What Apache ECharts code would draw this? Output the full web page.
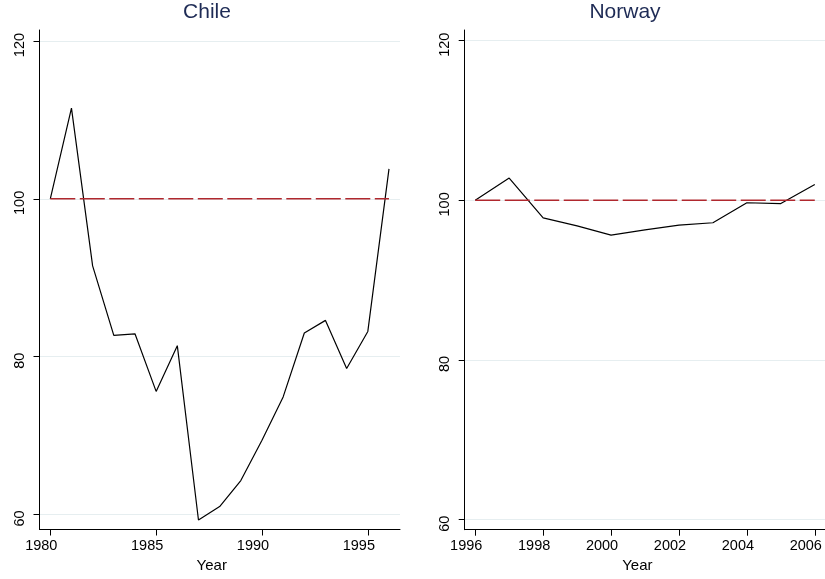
<!DOCTYPE html>
<html>
<head>
<meta charset="utf-8">
<script src="https://cdn.jsdelivr.net/npm/echarts@6/dist/echarts.min.js"></script>
<style>
html,body{margin:0;padding:0;background:#fff;}
#chart{width:825px;height:579px;}
</style>
</head>
<body>
<div id="chart"></div>
<script>
const chileYears = [1980,1981,1982,1983,1984,1985,1986,1987,1988,1989,1990,1991,1992,1993,1994,1995,1996];
const chileIndex = [100,111.5,91.5,82.7,82.9,75.6,81.4,59.3,61.0,64.3,69.4,74.9,83.0,84.6,78.5,83.2,103.8];
const norwayYears = [1996,1997,1998,1999,2000,2001,2002,2003,2004,2005,2006];
const norwayIndex = [100,102.8,97.8,96.8,95.65,96.3,96.9,97.2,99.7,99.6,102.0];
const baseline = 100;
const yTicks = [60,80,100,120];
const chileXTicks = [1980,1985,1990,1995];
const norwayXTicks = [1996,1998,2000,2002,2004,2006];
const panelTitles = ['Chile','Norway'];
const xTitle = 'Year';

const FONT = '"Liberation Sans", Arial, sans-serif';
const chart = echarts.init(document.getElementById('chart'), null, {renderer:'canvas'});

function xAxisOpt(idx, min, max, ticks){
  return {
    type:'value', gridIndex:idx, min:min, max:max,
    axisLine:{show:true, onZero:false, lineStyle:{color:'#000', width:1}},
    axisTick:{show:true, length:6, customValues:ticks, lineStyle:{color:'#000'}},
    axisLabel:{customValues:ticks, formatter:v=>String(v), color:'#000', fontFamily:FONT, fontSize:14.5,
               margin:9, padding:[0,18,0,0]},
    splitLine:{show:false},
    name:xTitle, nameLocation:'middle', nameGap:27,
    nameTextStyle:{color:'#000', fontFamily:FONT, fontSize:15, padding:[0,16,0,0]}
  };
}
function yAxisOpt(idx, min, max){
  return {
    type:'value', gridIndex:idx, min:min, max:max,
    axisLine:{show:true, onZero:false, lineStyle:{color:'#000', width:1}},
    axisTick:{show:true, length:6, customValues:yTicks, lineStyle:{color:'#000'}},
    axisLabel:{customValues:yTicks, formatter:v=>String(v), rotate:90, color:'#000', fontFamily:FONT, fontSize:14.5,
               margin:12, padding:[0,8,0,0]},
    splitLine:{show:true, lineStyle:{color:'#e6eef0', width:1}}
  };
}
function pairs(xs, ys){ return xs.map((x,i)=>[x, ys[i]]); }

const option = {
  animation:false,
  backgroundColor:'#fff',
  title:[
    {text:panelTitles[0], left:207, top:2, textAlign:'center', padding:0,
     textStyle:{color:'#1e2b55', fontFamily:FONT, fontSize:21, fontWeight:'normal'}},
    {text:panelTitles[1], left:625, top:2, textAlign:'center', padding:0,
     textStyle:{color:'#1e2b55', fontFamily:FONT, fontSize:21, fontWeight:'normal'}}
  ],
  grid:[
    {left:39.5, top:30, width:360.5, height:499.5, outerBoundsMode:'none', containLabel:false},
    {left:464.7, top:30, width:361.3, height:499.7, outerBoundsMode:'none', containLabel:false}
  ],
  xAxis:[
    xAxisOpt(0, 1979.49, 1996.52, chileXTicks),
    xAxisOpt(1, 1995.69, 2006.33, norwayXTicks)
  ],
  yAxis:[
    yAxisOpt(0, 58.1, 121.4),
    yAxisOpt(1, 58.75, 121.34)
  ],
  series:[
    {type:'line', xAxisIndex:0, yAxisIndex:0, data:pairs(chileYears, chileIndex),
     showSymbol:false, symbol:'none', lineStyle:{color:'#000', width:1.2}, z:2},
    {type:'line', xAxisIndex:0, yAxisIndex:0, data:chileYears.map(y=>[y, baseline]),
     showSymbol:false, symbol:'none', lineStyle:{color:'#b0282e', width:1.5, type:[25,4.5]}, z:3},
    {type:'line', xAxisIndex:1, yAxisIndex:1, data:pairs(norwayYears, norwayIndex),
     showSymbol:false, symbol:'none', lineStyle:{color:'#000', width:1.2}, z:2},
    {type:'line', xAxisIndex:1, yAxisIndex:1, data:norwayYears.map(y=>[y, baseline]),
     showSymbol:false, symbol:'none', lineStyle:{color:'#b0282e', width:1.5, type:[25,4.5]}, z:3}
  ]
};
chart.setOption(option);
</script>
</body>
</html>
